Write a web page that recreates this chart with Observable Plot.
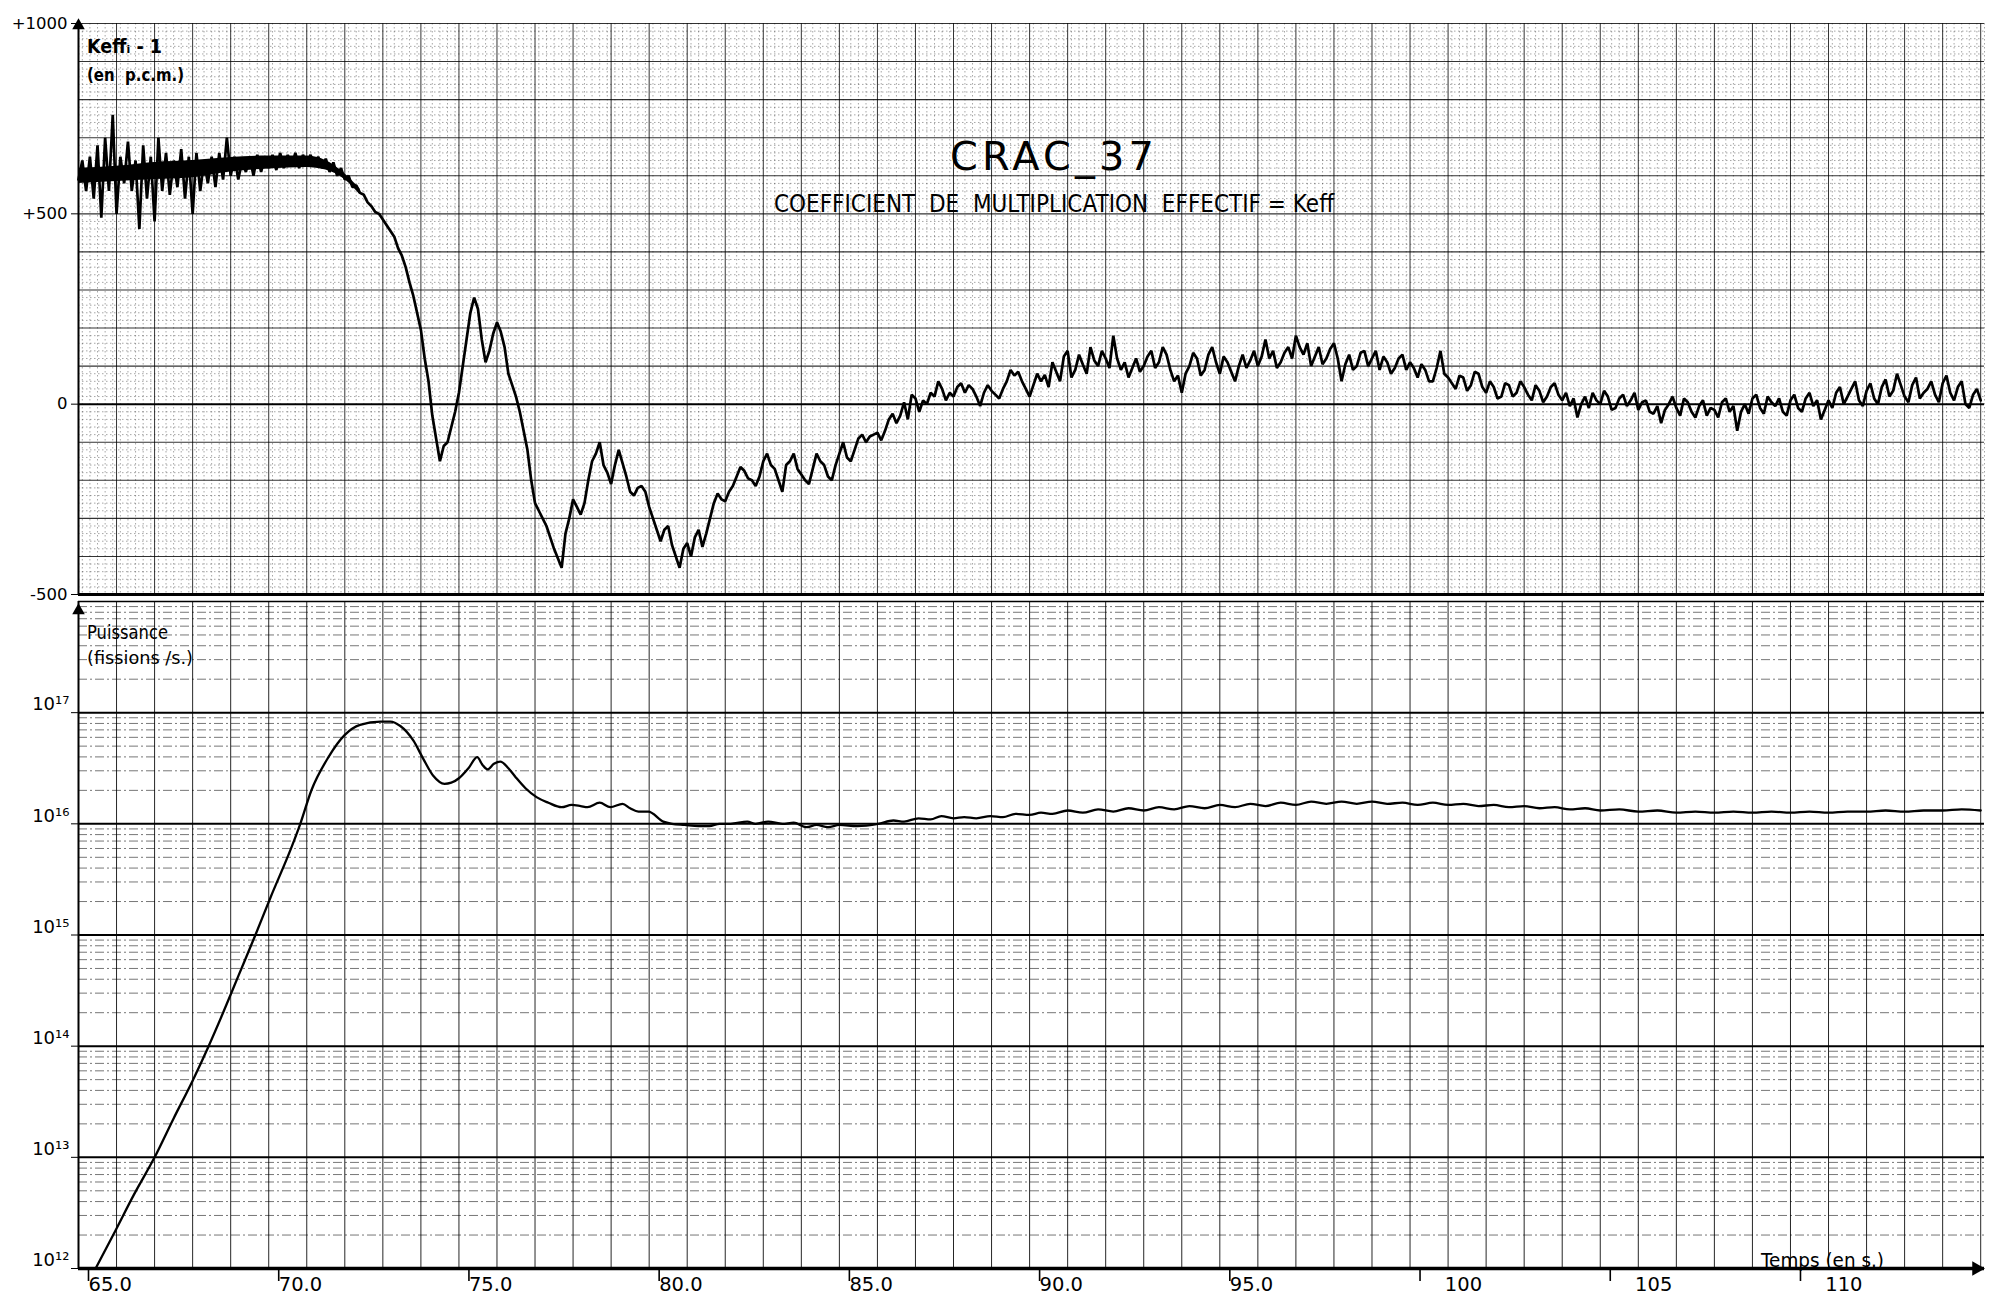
<!DOCTYPE html>
<html>
<head>
<meta charset="utf-8">
<script src="https://cdn.jsdelivr.net/npm/d3@7"></script>
<script src="https://cdn.jsdelivr.net/npm/@observablehq/plot@0.6"></script>
<style>
html,body{margin:0;padding:0;background:#fff;}
#wrap{position:relative;width:1989px;height:1305px;overflow:hidden;background:#fff;font-family:"DejaVu Sans",sans-serif;color:#000;}
#wrap svg{display:block;}
.lbl{position:absolute;white-space:pre;line-height:1;transform-origin:0 0;}
</style>
</head>
<body>
<div id="wrap"></div>
<script>
// ---------------- data ----------------
const xDomain = [65, 115.1];
const keffDomain = [-500, 1000];
const powerDomain = [1e12, 1e18];

const xTicks = [65, 70, 75, 80, 85, 90, 95, 100, 105, 110];
const xTickLabels = ["65.0", "70.0", "75.0", "80.0", "85.0", "90.0", "95.0", "\u2007\u2007100", "\u2007\u2007105", "\u2007\u2007110"];
const keffTicks = [-500, 0, 500, 1000];
const keffTickLabels = ["-500", "0", "+500", "+1000"];
const powerTicks = [1e12, 1e13, 1e14, 1e15, 1e16, 1e17];
const powerTickLabels = ["10\u00b9\u00b2", "10\u00b9\u00b3", "10\u00b9\u2074", "10\u00b9\u2075", "10\u00b9\u2076", "10\u00b9\u2077"];

// Keff - 1 (pcm)
const keffTime = [
65.0,65.1,65.2,65.3,65.4,65.5,65.6,65.7,65.8,65.9,
66.0,66.1,66.2,66.3,66.4,66.5,66.6,66.7,66.8,66.9,
67.0,67.1,67.2,67.3,67.4,67.5,67.6,67.7,67.8,67.9,
68.0,68.1,68.2,68.3,68.4,68.5,68.6,68.7,68.8,68.9,
69.0,69.1,69.2,69.3,69.4,69.5,69.6,69.7,69.8,69.9,
70.0,70.1,70.2,70.3,70.4,70.5,70.6,70.7,70.8,70.9,
71.0,71.1,71.2,71.3,71.4,71.5,71.6,71.7,71.8,71.9,
72.0,72.1,72.2,72.3,72.4,72.5,72.6,72.7,72.8,72.9,
73.0,73.1,73.2,73.3,73.4,73.5,73.6,73.7,73.8,73.9,
74.0,74.1,74.2,74.3,74.4,74.5,74.6,74.7,74.8,74.9,
75.0,75.1,75.2,75.3,75.4,75.5,75.6,75.7,75.8,75.9,
76.0,76.1,76.2,76.3,76.4,76.5,76.6,76.7,76.8,76.9,
77.0,77.1,77.2,77.3,77.4,77.5,77.6,77.7,77.8,77.9,
78.0,78.1,78.2,78.3,78.4,78.5,78.6,78.7,78.8,78.9,
79.0,79.1,79.2,79.3,79.4,79.5,79.6,79.7,79.8,79.9,
80.0,80.1,80.2,80.3,80.4,80.5,80.6,80.7,80.8,80.9,
81.0,81.1,81.2,81.3,81.4,81.5,81.6,81.7,81.8,81.9,
82.0,82.1,82.2,82.3,82.4,82.5,82.6,82.7,82.8,82.9,
83.0,83.1,83.2,83.3,83.4,83.5,83.6,83.7,83.8,83.9,
84.0,84.1,84.2,84.3,84.4,84.5,84.6,84.7,84.8,84.9,
85.0,85.1,85.2,85.3,85.4,85.5,85.6,85.7,85.8,85.9,
86.0,86.1,86.2,86.3,86.4,86.5,86.6,86.7,86.8,86.9,
87.0,87.1,87.2,87.3,87.4,87.5,87.6,87.7,87.8,87.9,
88.0,88.1,88.2,88.3,88.4,88.5,88.6,88.7,88.8,88.9,
89.0,89.1,89.2,89.3,89.4,89.5,89.6,89.7,89.8,89.9,
90.0,90.1,90.2,
90.3,90.4,90.5,90.6,90.7,90.8,90.9,91.0,91.1,91.2,
91.3,91.4,91.5,91.6,91.7,91.8,91.9,92.0,92.1,92.2,
92.3,92.4,92.5,92.6,92.7,92.8,92.9,93.0,93.1,93.2,
93.3,93.4,93.5,93.6,93.7,93.8,93.9,94.0,94.1,94.2,
94.3,94.4,94.5,94.6,94.7,94.8,94.9,95.0,95.1,95.2,
95.3,95.4,95.5,95.6,95.7,95.8,95.9,96.0,96.1,96.2,
96.3,96.4,96.5,96.6,96.7,96.8,96.9,97.0,97.1,97.2,
97.3,97.4,97.5,97.6,97.7,97.8,97.9,98.0,98.1,98.2,
98.3,98.4,98.5,98.6,98.7,98.8,98.9,99.0,99.1,99.2,
99.3,99.4,99.5,99.6,99.7,99.8,99.9,100.0,100.1,100.2,
100.3,100.4,100.5,100.6,100.7,100.8,100.9,101.0,101.1,101.2,
101.3,101.4,101.5,101.6,101.7,101.8,101.9,102.0,102.1,102.2,
102.3,102.4,102.5,102.6,102.7,102.8,102.9,103.0,103.1,103.2,
103.3,103.4,103.5,103.6,103.7,103.8,103.9,104.0,104.1,104.2,
104.3,104.4,104.5,104.6,104.7,104.8,104.9,105.0,105.1,105.2,
105.3,105.4,105.5,105.6,105.7,105.8,105.9,106.0,106.1,106.2,
106.3,106.4,106.5,106.6,106.7,106.8,106.9,107.0,107.1,107.2,
107.3,107.4,107.5,107.6,107.7,107.8,107.9,108.0,108.1,108.2,
108.3,108.4,108.5,108.6,108.7,108.8,108.9,109.0,109.1,109.2,
109.3,109.4,109.5,109.6,109.7,109.8,109.9,110.0,110.1,110.2,
110.3,110.4,110.5,110.6,110.7,110.8,110.9,111.0,111.1,111.2,
111.3,111.4,111.5,111.6,111.7,111.8,111.9,112.0,112.1,112.2,
112.3,112.4,112.5,112.6,112.7,112.8,112.9,113.0,113.1,113.2,
113.3,113.4,113.5,113.6,113.7,113.8,113.9,114.0,114.1,114.2,
114.3,114.4,114.5,114.6,114.7,114.8,114.9,115.0
];
const keffPcm = [
590,640,560,650,540,680,490,700,560,760,
500,650,580,690,560,640,460,680,540,650,
480,700,560,660,550,640,570,670,540,650,
500,660,560,640,580,650,570,660,590,700,
600,650,590,640,610,650,600,655,610,650,
620,655,615,660,620,655,625,660,620,655,
630,655,625,650,620,645,610,635,600,620,
590,600,570,575,555,550,530,520,505,500,
485,470,455,440,410,390,360,320,285,240,
195,120,60,-30,-90,-150,-110,-100,-60,-20,
30,100,170,240,280,250,170,110,140,185,
215,190,150,80,50,20,-20,-70,-120,-200,
-260,-280,-300,-320,-350,-380,-405,-430,-340,-300,
-250,-270,-290,-260,-200,-150,-130,-100,-160,-180,
-210,-160,-120,-155,-190,-230,-240,-220,-215,-230,
-270,-300,-330,-360,-330,-320,-370,-400,-430,-380,
-365,-400,-350,-330,-375,-340,-300,-260,-235,-250,
-255,-230,-215,-190,-165,-175,-195,-200,-215,-190,
-150,-130,-160,-170,-200,-230,-160,-150,-130,-170,
-185,-200,-210,-170,-130,-150,-160,-190,-200,-160,
-130,-100,-140,-150,-120,-90,-80,-100,-85,-80,
-75,-95,-70,-40,-25,-50,-30,5,-40,25,
15,-20,10,0,30,20,60,40,10,30,
20,45,55,30,50,40,20,-5,30,50,
35,25,15,40,60,90,75,85,60,40,
20,50,80,
60,77,45,110,85,60,125,140,70,90,
130,104,80,150,115,100,140,120,95,180,
120,90,110,70,95,120,85,100,125,140,
95,110,150,130,90,60,75,30,80,100,
135,120,75,90,130,150,110,80,125,110,
85,60,100,130,95,115,140,100,125,170,
120,140,95,110,135,150,120,180,150,130,
160,100,125,150,105,120,145,160,120,60,
105,130,90,100,135,140,100,120,140,90,
125,110,80,95,120,130,90,110,95,70,
105,90,60,60,95,140,80,70,55,40,
75,70,35,50,85,80,45,30,60,45,
15,20,55,50,20,30,60,45,25,10,
50,35,5,20,45,55,25,10,30,-5,
15,-35,0,20,-10,30,10,0,35,20,
-15,-10,15,25,-5,10,30,-15,5,10,
-20,-25,-5,-50,-15,0,20,-10,-30,15,
5,-20,-35,-5,10,-30,-10,-15,-35,5,
15,-20,-5,-70,-20,0,-25,15,25,-10,
-25,20,5,-5,15,-20,-30,10,25,-10,
-20,15,30,-5,10,-40,-15,10,-10,30,
45,0,20,40,60,10,-5,35,55,15,
0,45,65,20,35,80,50,20,5,50,
70,15,30,40,60,25,5,55,75,30,
10,45,60,0,-10,25,40,10
];

// dense core of the noisy plateau (pcm)
const bandTime = [65.0, 66.0, 67.0, 68.0, 69.0, 70.0, 71.0, 71.5, 72.0, 72.4];
const bandLow  = [580, 585, 590, 595, 610, 618, 622, 615, 590, 550];
const bandHigh = [620, 625, 635, 640, 648, 652, 652, 640, 605, 565];

const powerTime = [
65.45,65.97,66.45,67.0,67.5,68.0,68.42,68.8,69.2,69.65,
70.05,70.6,70.83,71.12,71.57,72.0,72.4,72.94,73.2,73.46,
73.8,74.07,74.33,74.62,74.8,75.0,75.25,75.48,75.62,75.75,
75.92,76.09,76.3,76.49,76.75,77.04,77.35,77.7,77.96,78.2,
78.38,78.7,78.98,79.3,79.5,79.72,79.98,80.37,80.6,80.93,
81.3,81.58,81.85,82.14,82.58,82.8,83.13,83.5,83.8,84.13,
84.4,84.7,85.0,85.47,86.02,86.42,86.7,87.08,87.4,87.68,
88.0,88.28,88.6,88.97,89.3,89.63,90.0,90.3,90.6,91.0,
91.4,91.8,92.2,92.6,93.0,93.4,93.8,94.2,94.6,95.0,
95.4,95.8,96.2,96.6,97.0,97.4,97.8,98.2,98.6,99.0,
99.4,99.8,100.2,100.6,101.0,101.4,101.8,102.2,102.6,103.0,
103.4,103.8,104.2,104.6,105.0,105.5,106.0,106.5,107.0,107.5,
108.0,108.5,109.0,109.5,110.0,110.5,111.0,111.5,112.0,112.5,
113.0,113.5,114.0,114.5,115.0
];
const powerLog10 = [
12.0,12.34,12.66,13.0,13.35,13.69,14.0,14.3,14.63,15.0,
15.34,15.79,16.0,16.3,16.6,16.8,16.89,16.92,16.92,16.88,
16.75,16.58,16.43,16.36,16.37,16.41,16.5,16.6,16.53,16.49,
16.54,16.56,16.5,16.42,16.32,16.24,16.19,16.15,16.17,16.16,
16.15,16.19,16.15,16.18,16.14,16.11,16.11,16.02,16.0,15.99,
15.98,15.98,16.0,16.0,16.02,16.0,16.02,16.0,16.01,15.97,
15.99,15.97,15.99,15.98,16.0,16.03,16.02,16.05,16.04,16.07,
16.05,16.06,16.05,16.07,16.06,16.09,16.08,16.1,16.09,16.12,
16.1,16.13,16.11,16.14,16.12,16.15,16.13,16.16,16.14,16.17,
16.15,16.18,16.16,16.19,16.17,16.2,16.18,16.2,16.18,16.2,
16.18,16.19,16.17,16.19,16.17,16.18,16.16,16.17,16.15,16.16,
16.14,16.15,16.13,16.14,16.12,16.13,16.11,16.12,16.1,16.11,
16.1,16.11,16.1,16.11,16.1,16.11,16.1,16.11,16.11,16.12,
16.11,16.12,16.12,16.13,16.12
];

// ---------------- layout ----------------
const W = 1989;
const wrap = document.getElementById("wrap");

const keffRows = keffTime.map((t, i) => ({t, v: keffPcm[i]}));
const bandRows = bandTime.map((t, i) => ({t, lo: bandLow[i], hi: bandHigh[i]}));
const powerRows = powerTime.map((t, i) => ({t, p: Math.pow(10, powerLog10[i])}));

// graph-paper grid
const secMajor = d3.range(66, 116, 1);
const secMinor = d3.range(651, 1152, 2).map(d => d / 10).filter(d => Math.abs(d - Math.round(d)) > 0.01);
const pcmMajor = d3.range(-400, 1001, 100).filter(d => d !== 0);
const pcmMinor = d3.range(-480, 1000, 20).filter(d => d % 100 !== 0);
const logMinor = [];
for (let e = 12; e < 18; e++) for (let k = 2; k <= 9; k++) logMinor.push(k * Math.pow(10, e));

const baseStyle = {fontFamily: "DejaVu Sans, sans-serif", fontSize: "16px", background: "transparent", overflow: "visible", color: "#000"};

const topPlot = Plot.plot({
  width: W, height: 598,
  marginLeft: 78, marginRight: 5, marginTop: 23, marginBottom: 4,
  x: {domain: xDomain, axis: null},
  y: {domain: keffDomain, axis: null},
  style: baseStyle,
  marks: [
    Plot.ruleX(secMinor, {stroke: "#000", strokeWidth: 0.7, strokeOpacity: 0.5, strokeDasharray: "1.5,2.5"}),
    Plot.ruleY(pcmMinor, {stroke: "#000", strokeWidth: 0.7, strokeOpacity: 0.5, strokeDasharray: "1.5,2.5"}),
    Plot.ruleX(secMajor, {stroke: "#000", strokeWidth: 1, strokeOpacity: 0.8}),
    Plot.ruleY(pcmMajor, {stroke: "#000", strokeWidth: 1.1, strokeOpacity: 0.8}),
    Plot.ruleY([0], {stroke: "#000", strokeWidth: 2}),
    Plot.ruleY([keffDomain[0]], {stroke: "#000", strokeWidth: 3}),
    Plot.ruleX([xDomain[0]], {stroke: "#000", strokeWidth: 2}),
    Plot.axisY({ticks: keffTicks, tickFormat: d => keffTickLabels[keffTicks.indexOf(d)], tickSize: 7, tickPadding: 4, fontSize: 16.5, label: null}),
    Plot.areaY(bandRows, {x: "t", y1: "lo", y2: "hi", fill: "#000", curve: "monotone-x"}),
    Plot.line(keffRows, {x: "t", y: "v", stroke: "#000", strokeWidth: 2.7, strokeLinejoin: "miter"}),
    Plot.dot([{t: xDomain[0], v: keffDomain[1]}], {x: "t", y: "v", symbol: "triangle2", r: 6, fill: "#000", stroke: "none", dy: 2})
  ]
});

const bottomPlot = Plot.plot({
  width: W, height: 707,
  marginLeft: 78, marginRight: 5, marginTop: 3, marginBottom: 37,
  x: {domain: xDomain, axis: null},
  y: {type: "log", domain: powerDomain, axis: null},
  style: baseStyle,
  marks: [
    Plot.ruleY(logMinor, {stroke: "#000", strokeWidth: 0.9, strokeOpacity: 0.6, strokeDasharray: "9,3,2,3"}),
    Plot.ruleX(secMajor, {stroke: "#000", strokeWidth: 1, strokeOpacity: 0.85}),
    Plot.ruleY(powerTicks.slice(1), {stroke: "#000", strokeWidth: 2}),
    Plot.ruleY([powerDomain[1]], {stroke: "#000", strokeWidth: 1.5}),
    Plot.ruleY([powerDomain[0]], {stroke: "#000", strokeWidth: 3.5}),
    Plot.ruleX([xDomain[0]], {stroke: "#000", strokeWidth: 2}),
    Plot.axisY({ticks: powerTicks, tickFormat: () => "", tickSize: 7, label: null}),
    Plot.axisY({ticks: powerTicks, tickFormat: d => powerTickLabels[powerTicks.indexOf(d)], tickSize: 0, tickPadding: 9, dy: -8, fontSize: 18, label: null}),
    Plot.axisX({ticks: xTicks, tickFormat: d => xTickLabels[xTicks.indexOf(d)], tickSize: 13, tickPadding: -4, textAnchor: "start", dx: 10, fontSize: 19.5, strokeWidth: 1.6, label: null}),
    Plot.line(powerRows, {x: "t", y: "p", stroke: "#000", strokeWidth: 2.3, curve: "monotone-x"}),
    Plot.dot([{t: xDomain[0], p: powerDomain[1]}], {x: "t", y: "p", symbol: "triangle2", r: 6, fill: "#000", stroke: "none", dy: 9}),
    Plot.dot([{t: xDomain[1], p: powerDomain[0]}], {x: "t", y: "p", symbol: "triangle2", r: 7, fill: "#000", stroke: "none", rotate: 90, dx: -8})
  ]
});

wrap.appendChild(topPlot);
wrap.appendChild(bottomPlot);

// ---------------- text labels ----------------
const labelSpecs = [
  {text: "CRAC_37", left: 950, capTop: 142, size: 38.4, width: 208, weight: "normal", spacing: 4},
  {text: "COEFFICIENT  DE  MULTIPLICATION  EFFECTIF = Keff", left: 774, capTop: 195, size: 24.7, width: 560, weight: "normal", spacing: 0},
  {text: "Keff\u1d62 - 1", left: 87, capTop: 38, size: 20, width: 75, weight: "bold", spacing: 0},
  {text: "(en  p.c.m.)", left: 87, capTop: 68, size: 18, width: 97, weight: "bold", spacing: 0},
  {text: "Puissance", left: 87, capTop: 625, size: 19, width: 81, weight: "normal", spacing: 0},
  {text: "(fissions /s.)", left: 87, capTop: 651, size: 18, width: 106, weight: "normal", spacing: 0},
  {text: "Temps (en s.)", left: 1761, capTop: 1253, size: 19.5, width: 123, weight: "normal", spacing: 0}
];
for (const s of labelSpecs) {
  const el = document.createElement("div");
  el.className = "lbl";
  el.textContent = s.text;
  el.style.fontSize = s.size + "px";
  el.style.fontWeight = s.weight;
  el.style.letterSpacing = s.spacing + "px";
  el.style.left = s.left + "px";
  el.style.top = (s.capTop - 0.117 * s.size) + "px";
  wrap.appendChild(el);
  const w = el.getBoundingClientRect().width;
  if (w > 0) el.style.transform = `scaleX(${s.width / w})`;
}
</script>
</body>
</html>
